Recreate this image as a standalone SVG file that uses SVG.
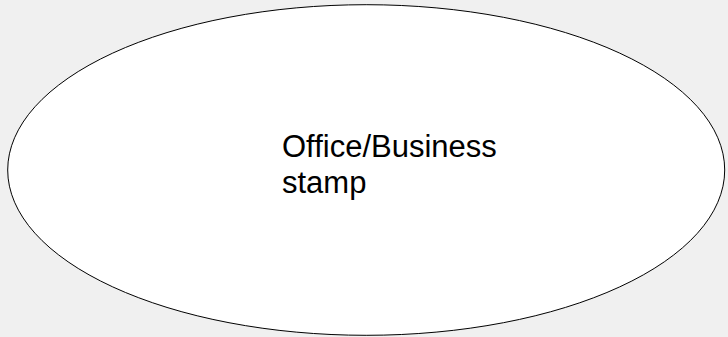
<svg xmlns="http://www.w3.org/2000/svg" width="728" height="337" viewBox="0 0 728 337">
<style>
.node{fill:#ffffff;stroke:#000000;stroke-width:1}
.lbl{font-family:"Liberation Sans",Arial,sans-serif;font-size:31px;fill:#000000}
</style>
<rect width="728" height="337" fill="#f0f0f0"/>
<g id="connectors"></g>
<g id="stamp">
<ellipse class="node" cx="366.2" cy="170" rx="358.5" ry="165.3"/>
<text class="lbl" x="282" y="157">Office/Business</text>
<text class="lbl" x="282" y="193">stamp</text>
</g>
</svg>
